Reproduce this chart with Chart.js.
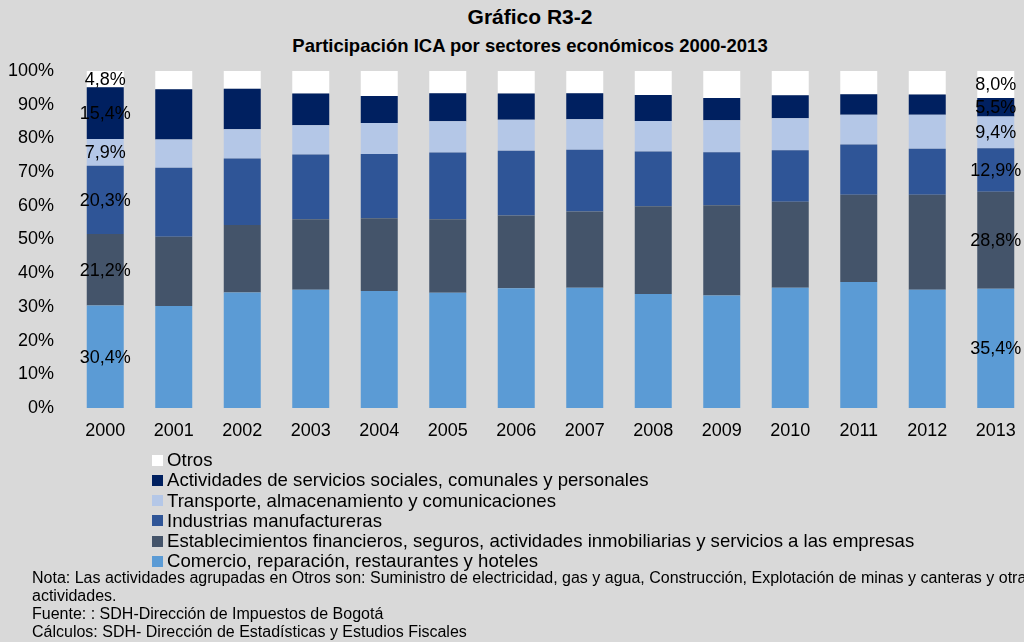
<!DOCTYPE html>
<html lang="es">
<head>
<meta charset="utf-8">
<title>Gráfico R3-2</title>
<script src="https://cdn.jsdelivr.net/npm/chart.js@4/dist/chart.umd.min.js"></script>
<style>
  html, body { margin: 0; padding: 0; }
  body {
    width: 1024px; height: 642px; overflow: hidden; position: relative;
    background: #d9d9d9; font-family: "Liberation Sans", Arial, sans-serif; color: #000;
  }
  #wrap { position: absolute; left: 0; top: 0; width: 1060px; height: 460px; }
  .title { position: absolute; left: 0; width: 1060px; text-align: center; font-weight: bold; line-height: 1; white-space: nowrap; }
  #t1 { top: 6px; font-size: 21px; }
  #t2 { top: 37px; font-size: 18.5px; }
  #legend { position: absolute; left: 152px; top: 450px; font-size: 18.6px; }
  .row { position: relative; height: 20.3px; line-height: 20.3px; white-space: nowrap; padding-left: 15px; }
  .box { position: absolute; left: 0; top: 4.5px; width: 11px; height: 11px; }
  #notes { position: absolute; left: 32px; top: 569px; font-size: 16px; line-height: 18px; white-space: nowrap; }
</style>
</head>
<body>
<div class="title" id="t1">Gráfico R3-2</div>
<div class="title" id="t2">Participación ICA por sectores económicos 2000-2013</div>
<div id="wrap"><canvas id="chart" width="1060" height="460"></canvas></div>
<div id="legend"></div>
<div id="notes">
  <div>Nota: Las actividades agrupadas en Otros son: Suministro de electricidad, gas y agua, Construcción, Explotación de minas y canteras y otras</div>
  <div>actividades.</div>
  <div>Fuente: : SDH-Dirección de Impuestos de Bogotá</div>
  <div>Cálculos: SDH- Dirección de Estadísticas y Estudios Fiscales</div>
</div>
<script>
// Años del periodo
const years = ['2000', '2001', '2002', '2003', '2004', '2005', '2006', '2007', '2008', '2009', '2010', '2011', '2012', '2013'];

// Participación (%) de cada sector en el recaudo ICA
const comercio = [30.4, 30.3, 34.3, 35.1, 34.7, 34.2, 35.5, 35.7, 33.8, 33.4, 35.7, 37.4, 35.1, 35.4];
const establecimientos = [21.2, 20.5, 20.0, 20.9, 21.6, 21.8, 21.6, 22.6, 26.1, 26.8, 25.5, 25.9, 28.2, 28.8];
const industrias = [20.3, 20.5, 19.7, 19.2, 19.1, 19.8, 19.2, 18.3, 16.2, 15.7, 15.3, 14.9, 13.6, 12.9];
const transporte = [7.9, 8.4, 8.7, 8.7, 9.2, 9.3, 9.2, 9.1, 9.1, 9.5, 9.5, 8.8, 10.1, 9.4];
const actividades = [15.4, 14.9, 12.0, 9.4, 8.0, 8.3, 7.8, 7.7, 7.7, 6.6, 6.8, 6.1, 6.0, 5.5];
const otros = [4.8, 5.4, 5.3, 6.7, 7.4, 6.6, 6.7, 6.6, 7.1, 8.0, 7.2, 6.9, 7.0, 8.0];

// Años cuyas barras llevan etiquetas de valor
const labeledYears = ['2000', '2013'];

// Marcas del eje vertical
const yTicks = [0, 10, 20, 30, 40, 50, 60, 70, 80, 90, 100];

const FONT = '"Liberation Sans", Arial, sans-serif';

const datasets = [
  { label: 'Comercio, reparación, restaurantes y hoteles', data: comercio, backgroundColor: '#5b9bd5' },
  { label: 'Establecimientos financieros, seguros, actividades inmobiliarias y servicios a las empresas', data: establecimientos, backgroundColor: '#44546a' },
  { label: 'Industrias manufactureras', data: industrias, backgroundColor: '#2f5597' },
  { label: 'Transporte, almacenamiento y comunicaciones', data: transporte, backgroundColor: '#b4c7e7' },
  { label: 'Actividades de servicios sociales, comunales y personales', data: actividades, backgroundColor: '#002060' },
  { label: 'Otros', data: otros, backgroundColor: '#ffffff' }
];

const fmt = v => v.toFixed(1).replace('.', ',') + '%';

// Etiquetas de valor centradas en cada segmento de las barras seleccionadas
const segmentLabels = {
  id: 'segmentLabels',
  afterDatasetsDraw(chart) {
    const ctx = chart.ctx;
    ctx.save();
    ctx.font = '18px ' + FONT;
    ctx.fillStyle = '#000';
    ctx.textAlign = 'center';
    ctx.textBaseline = 'middle';
    chart.data.datasets.forEach((ds, di) => {
      const meta = chart.getDatasetMeta(di);
      labeledYears.forEach(y => {
        const i = chart.data.labels.indexOf(y);
        const el = meta.data[i];
        if (!el) return;
        ctx.fillText(fmt(ds.data[i]), el.x, (el.y + el.base) / 2 + 1);
      });
    });
    ctx.restore();
  }
};

const chart = new Chart(document.getElementById('chart'), {
  type: 'bar',
  data: { labels: years, datasets },
  options: {
    responsive: false,
    animation: false,
    devicePixelRatio: 1,
    layout: { padding: { left: 0, right: 30, top: 71, bottom: 0 } },
    datasets: { bar: { categoryPercentage: 1, barPercentage: 0.54, borderWidth: 0 } },
    plugins: {
      legend: { display: false },
      tooltip: { enabled: false },
      title: { display: false }
    },
    scales: {
      x: {
        stacked: true,
        grid: { display: false, drawTicks: false },
        border: { display: false },
        ticks: { font: { family: FONT, size: 18 }, color: '#000', padding: 12, maxRotation: 0, autoSkip: false },
        afterFit(scale) { scale.height = 52; }
      },
      y: {
        stacked: true,
        min: 0,
        max: 100,
        grid: { display: false, drawTicks: false },
        border: { display: false },
        afterBuildTicks(scale) { scale.ticks = yTicks.map(v => ({ value: v })); },
        ticks: { font: { family: FONT, size: 18 }, color: '#000', padding: 17, callback: v => v + '%' },
        afterFit(scale) { scale.width = 71; }
      }
    }
  },
  plugins: [segmentLabels]
});

// Leyenda vertical, en orden inverso al apilado
const legend = document.getElementById('legend');
chart.data.datasets.slice().reverse().forEach(ds => {
  const row = document.createElement('div');
  row.className = 'row';
  const box = document.createElement('span');
  box.className = 'box';
  box.style.background = ds.backgroundColor;
  row.appendChild(box);
  row.appendChild(document.createTextNode(ds.label));
  legend.appendChild(row);
});
</script>
</body>
</html>
